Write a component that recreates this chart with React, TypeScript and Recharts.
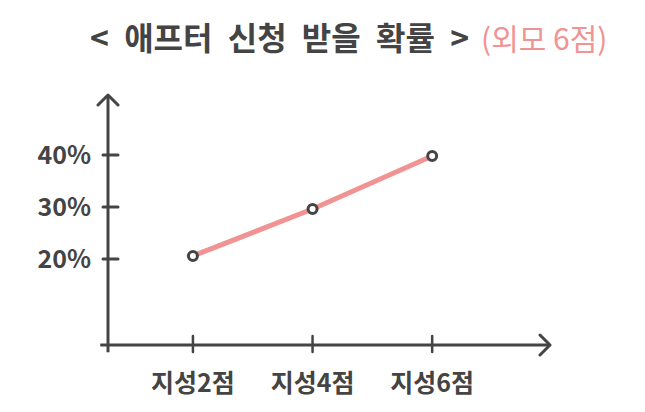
import React from "react";
import { LineChart, Line, XAxis, YAxis, ReferenceLine } from "recharts";

const categories = ["지성2점", "지성4점", "지성6점"];
const scores = [2, 4, 6];
const rates = [20.6, 29.6, 39.8];
const yTicks = [20, 30, 40];

const INK = "#444444";
const PINK = "#f29393";
const FONT = "'Noto Sans CJK KR', 'Noto Sans', sans-serif";

const data = scores.map((s, i) => ({ score: s, label: categories[i], rate: rates[i] }));

const YTick = ({ x, y, payload }: any) => (
    <g>
        <line x1={x - 5} x2={x + 10} y1={y} y2={y} stroke={INK} strokeWidth={3} strokeLinecap="round" />
        <text x={x - 17} y={y} dy="0.35em" textAnchor="end" fill={INK} fontSize={25} fontWeight={700} fontFamily={FONT}>
            {payload.value}%
        </text>
    </g>
);

const XTick = ({ x, y, payload }: any) => {
    const idx = scores.indexOf(payload.value);
    return (
        <g>
            <line x1={x} x2={x} y1={y - 9} y2={y + 7} stroke={INK} strokeWidth={2.5} strokeLinecap="round" />
            <text x={x} y={y + 38} dy="0.35em" textAnchor="middle" fill={INK} fontSize={25} fontWeight={700} fontFamily={FONT}>
                {categories[idx]}
            </text>
        </g>
    );
};

export default function App() {
    return (
        <div style={{ position: "absolute", left: 0, top: 0, width: 645, height: 412, background: "#fff" }}>
            <svg width={0} height={0} style={{ position: "absolute" }}>
                <defs>
                    <marker id="arrow" viewBox="0 0 24 24" refX={21} refY={12} markerWidth={24} markerHeight={24}
                        markerUnits="userSpaceOnUse" orient="auto-start-reverse">
                        <path d="M11,2 L21,12 L11,22" fill="none" stroke={INK} strokeWidth={3} strokeLinecap="round" strokeLinejoin="round" />
                    </marker>
                </defs>
            </svg>
            <div style={{ position: "absolute", left: 90, top: 13, fontFamily: FONT, whiteSpace: "nowrap" }}>
                <span style={{ fontSize: 32, fontWeight: 700, color: INK, wordSpacing: 8 }}>&lt; 애프터 신청 받을 확률 &gt;</span>
                <span style={{ fontSize: 30, color: PINK, marginLeft: 12 }}>(외모 6점)</span>
            </div>
            <LineChart width={645} height={412} data={data} margin={{ top: 95, left: 8, right: 95, bottom: 7 }}>
                <XAxis
                    dataKey="score"
                    type="number"
                    domain={[0.58, 7.97]}
                    ticks={scores}
                    height={60}
                    tickSize={0}
                    tickMargin={0}
                    tickLine={false}
                    tick={<XTick />}
                    axisLine={{ stroke: INK, strokeWidth: 3, markerEnd: "url(#arrow)" }}
                />
                <YAxis
                    domain={[3.5, 51.5]}
                    ticks={yTicks}
                    width={100}
                    tickSize={0}
                    tickMargin={0}
                    tickLine={false}
                    tick={<YTick />}
                    axisLine={{ stroke: INK, strokeWidth: 3, markerStart: "url(#arrow)" }}
                />
                <ReferenceLine segment={[{ x: 0.58, y: 3.5 }, { x: 0.58, y: 2.1 }]} stroke={INK} strokeWidth={3} ifOverflow="visible" />
                <ReferenceLine segment={[{ x: 0.58, y: 3.5 }, { x: 0.45, y: 3.5 }]} stroke={INK} strokeWidth={3} ifOverflow="visible" />
                <Line
                    dataKey="rate"
                    stroke={PINK}
                    strokeWidth={5}
                    dot={{ r: 4.5, stroke: INK, strokeWidth: 3, fill: "#fff" }}
                    activeDot={false}
                    isAnimationActive={false}
                />
            </LineChart>
        </div>
    );
}
